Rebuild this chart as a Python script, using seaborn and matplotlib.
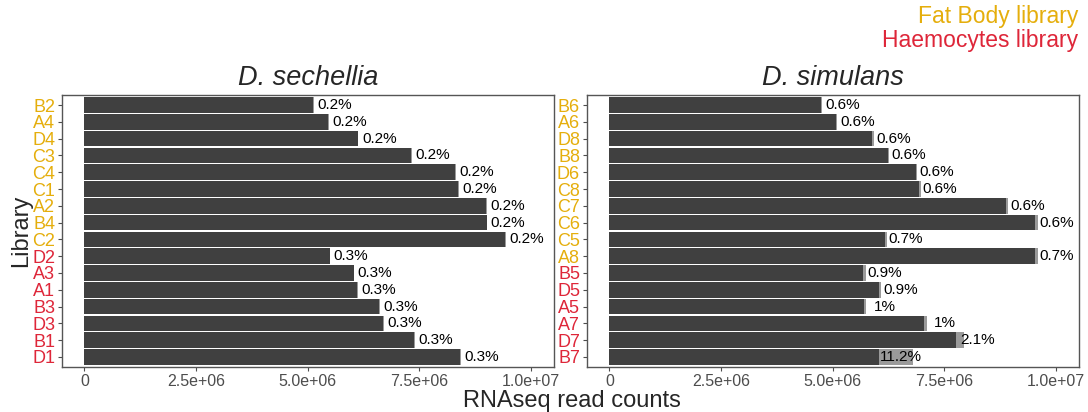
import numpy as np
import pandas as pd
import matplotlib
matplotlib.use("Agg")
import matplotlib.pyplot as plt
import seaborn as sns

# libraries, top to bottom, with total read counts and % of the light (other) part
sech_lib = ["B2", "A4", "D4", "C3", "C4", "C1", "A2", "B4", "C2",
            "D2", "A3", "A1", "B3", "D3", "B1", "D1"]
sech_tissue = ["fb"] * 9 + ["hc"] * 7
sech_total = [5.14e6, 5.48e6, 6.14e6, 7.34e6, 8.32e6, 8.39e6, 9.02e6, 9.03e6, 9.45e6,
              5.51e6, 6.05e6, 6.13e6, 6.62e6, 6.71e6, 7.41e6, 8.44e6]
sech_pct = [0.2] * 9 + [0.3] * 7
sech_label = ["0.2%"] * 9 + ["0.3%"] * 7

sim_lib = ["B6", "A6", "D8", "B8", "D6", "C8", "C7", "C6", "C5", "A8",
           "B5", "D5", "A5", "A7", "D7", "B7"]
sim_tissue = ["fb"] * 10 + ["hc"] * 6
sim_total = [4.77e6, 5.11e6, 5.92e6, 6.27e6, 6.90e6, 6.97e6, 8.94e6, 9.60e6, 6.21e6, 9.60e6,
             5.74e6, 6.09e6, 5.76e6, 7.11e6, 7.94e6, 6.81e6]
sim_pct = [0.6, 0.6, 0.6, 0.6, 0.6, 0.6, 0.6, 0.6, 0.7, 0.7,
           0.9, 0.9, 1.0, 1.0, 2.1, 11.2]
sim_label = ["0.6%"] * 8 + ["0.7%", "0.7%", "0.9%", "0.9%", "1%", "1%", "2.1%", "11.2%"]

dark = "#404040"
light = "#9a9a9a"
tissue_col = {"fb": "#E5AE0C", "hc": "#DE2639"}

sns.set_theme(style="white")
plt.rcParams["font.family"] = ["Liberation Sans", "DejaVu Sans"]

fig = plt.figure(figsize=(10.88, 4.12), dpi=100)
ax1 = fig.add_axes([62 / 1088, 1 - 367 / 412, 492 / 1088, 272 / 412])
ax2 = fig.add_axes([587 / 1088, 1 - 367 / 412, 492 / 1088, 272 / 412])

panels = [
    (ax1, "D. sechellia", sech_lib, sech_tissue, sech_total, sech_pct, sech_label),
    (ax2, "D. simulans", sim_lib, sim_tissue, sim_total, sim_pct, sim_label),
]

for ax, title, lib, tissue, total, pct, lab in panels:
    df = pd.DataFrame({"lib": lib, "total": total, "pct": pct})
    df["main"] = df["total"] * (1 - df["pct"] / 100)
    # light part underneath, dark (main) part on top
    sns.barplot(data=df, x="total", y="lib", color=light, width=0.93,
                saturation=1, linewidth=0, ax=ax)
    sns.barplot(data=df, x="main", y="lib", color=dark, width=0.93,
                saturation=1, linewidth=0, ax=ax)
    for i, (m, t) in enumerate(zip(df["main"], lab)):
        ax.text(m + 4.8e5, i, t, ha="center", va="center", fontsize=11,
                color="black")
    ax.set_xlim(-5e5, 1.052e7)
    ax.set_ylim(len(lib) - 0.4, -0.6)
    ax.set_xticks([0, 2.5e6, 5e6, 7.5e6, 1e7])
    ax.set_xticklabels(["0", "2.5e+06", "5.0e+06", "7.5e+06", "1.0e+07"],
                       color="#4d4d4d", fontsize=11.5)
    ax.set_yticks(range(len(lib)))
    ax.set_yticklabels(lib, fontsize=13)
    for tl, ts in zip(ax.get_yticklabels(), tissue):
        tl.set_color(tissue_col[ts])
    ax.tick_params(axis="both", length=3, width=0.8, color="#4d4d4d",
                   direction="out", bottom=True, left=True, pad=2)
    for sp in ax.spines.values():
        sp.set_color("#555555")
        sp.set_linewidth(1.0)
    ax.set_title(title, style="italic", fontsize=19.5, pad=7)
    ax.set_xlabel("")
    ax.set_ylabel("")

ax1.set_ylabel("Library", fontsize=17, labelpad=0)
fig.text(0.526, 1 - 401 / 412, "RNAseq read counts", ha="center", va="center", fontsize=17)
fig.text(1078 / 1088, 1 - 17 / 412, "Fat Body library", ha="right", va="center",
         fontsize=16.5, color=tissue_col["fb"])
fig.text(1078 / 1088, 1 - 40 / 412, "Haemocytes library", ha="right", va="center",
         fontsize=16.5, color=tissue_col["hc"])

fig.savefig("out.png", dpi=100)
